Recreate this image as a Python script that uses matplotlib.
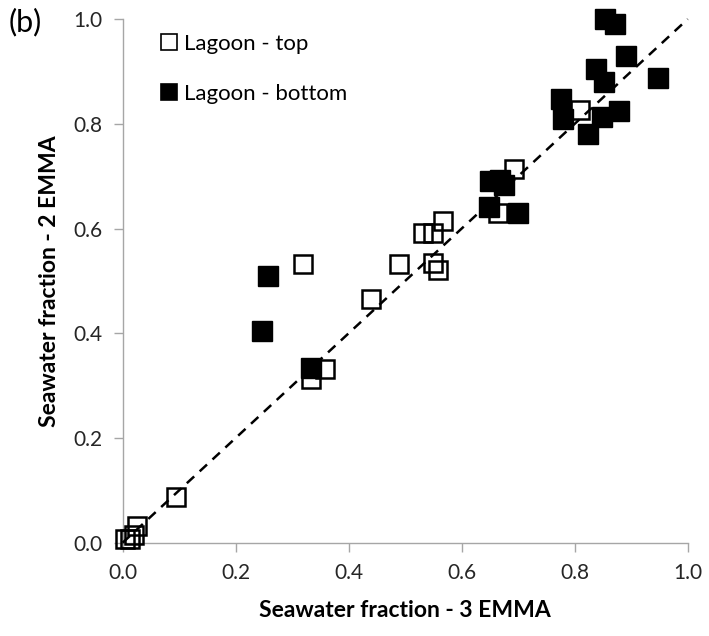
import matplotlib
matplotlib.use("Agg")
import matplotlib.pyplot as plt

# Lagoon - top (open squares)
top_x = [0.004, 0.013, 0.020, 0.025, 0.094, 0.333, 0.358, 0.440, 0.319, 0.489,
         0.549, 0.558, 0.532, 0.549, 0.567, 0.664, 0.692, 0.810]
top_y = [0.008, 0.008, 0.015, 0.031, 0.088, 0.313, 0.331, 0.465, 0.532, 0.532,
         0.535, 0.521, 0.591, 0.591, 0.615, 0.630, 0.714, 0.827]

# Lagoon - bottom (filled squares)
bot_x = [0.246, 0.257, 0.334, 0.648, 0.650, 0.667, 0.675, 0.700, 0.776, 0.779,
         0.823, 0.849, 0.878, 0.851, 0.838, 0.948, 0.891, 0.871, 0.853]
bot_y = [0.404, 0.510, 0.334, 0.641, 0.690, 0.692, 0.683, 0.630, 0.848, 0.810,
         0.781, 0.813, 0.825, 0.880, 0.904, 0.888, 0.929, 0.990, 1.000]

ticks = [0.0, 0.2, 0.4, 0.6, 0.8, 1.0]
tick_labels = ["0.0", "0.2", "0.4", "0.6", "0.8", "1.0"]
line_xy = [0.0, 1.0]

plt.rcParams['font.family'] = ['Lato', 'DejaVu Sans']

fig = plt.figure(figsize=(7.09, 6.36), dpi=100)
ax = fig.add_axes([0.173, 0.1467, 0.797, 0.8233])

ax.plot(line_xy, line_xy, color='black', lw=1.8, linestyle=(0, (4, 3)), zorder=3,
        clip_on=False)
ax.plot(top_x, top_y, linestyle='none', marker='s', markersize=13,
        markerfacecolor='none', markeredgecolor='black', markeredgewidth=1.8,
        label='Lagoon - top', zorder=2, clip_on=False)
ax.plot(bot_x, bot_y, linestyle='none', marker='s', markersize=14,
        markerfacecolor='black', markeredgecolor='black', markeredgewidth=1.0,
        label='Lagoon - bottom', zorder=4, clip_on=False)

ax.set_xlim(0, 1)
ax.set_ylim(0, 1)
ax.set_xticks(ticks)
ax.set_xticklabels(tick_labels)
ax.set_yticks(ticks)
ax.set_yticklabels(tick_labels)

for s in ['top', 'right']:
    ax.spines[s].set_visible(False)
for s in ['left', 'bottom']:
    ax.spines[s].set_color('#A6A6A6')
    ax.spines[s].set_linewidth(1.0)
    ax.spines[s].set_zorder(1)
ax.tick_params(axis='both', direction='out', length=6.5, width=1.0, color='#A6A6A6',
               labelsize=15, labelcolor='#262626', pad=8)

ax.set_xlabel('Seawater fraction - 3 EMMA', fontsize=16.5, fontweight='bold', labelpad=12)
ax.set_ylabel('Seawater fraction - 2 EMMA', fontsize=16.5, fontweight='bold', labelpad=10)

leg = ax.legend(loc='upper left', bbox_to_anchor=(0.04, 1.0), frameon=False,
                fontsize=16, markerscale=0.85, handlelength=0.8, handletextpad=0.3,
                labelspacing=1.35, borderaxespad=0.25)
for h in leg.legend_handles:
    h.set_markeredgewidth(1.2)

fig.text(0.012, 0.965, '(b)', fontsize=22, va='center', ha='left')

fig.savefig('out.png', dpi=100)
